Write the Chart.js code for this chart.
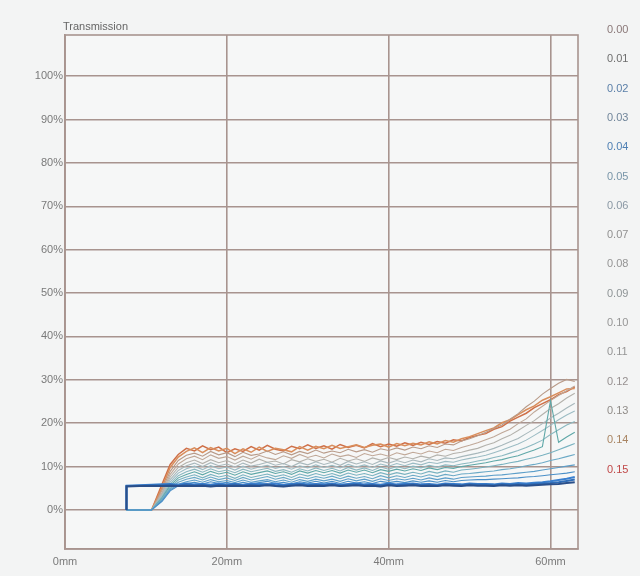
<!DOCTYPE html>
<html>
<head>
<meta charset="utf-8">
<script src="https://cdn.jsdelivr.net/npm/chart.js@4"></script>
<style>
  html, body { margin: 0; padding: 0; background: #f3f4f4; }
  #wrap { width: 640px; height: 576px; }
</style>
</head>
<body>
<div id="wrap"><canvas id="chart"></canvas></div>
<script>
// positions along the sample in mm (shared by every curve)
const positions = [7.6, 7.6, 9.2, 10.7,
  12, 13, 14, 15, 16, 17, 18, 19, 20, 21,
  22, 23, 24, 25, 26, 27, 28, 29, 30, 31,
  32, 33, 34, 35, 36, 37, 38, 39, 40, 41,
  42, 43, 44, 45, 46, 47, 48, 49, 50, 51,
  52, 53, 54, 55, 56, 57, 58, 59, 60, 61,
  62, 63];

const seriesLabels = ['0.00', '0.01', '0.02', '0.03', '0.04', '0.05', '0.06', '0.07',
  '0.08', '0.09', '0.10', '0.11', '0.12', '0.13', '0.14', '0.15'];

// transmission in %
const t000 = [0, 5.4, 5.5, 5.5,
  5.5, 5.6, 5.5, 5.6, 5.5, 5.6, 5.4, 5.6, 5.5, 5.6,
  5.5, 5.6, 5.5, 5.7, 5.5, 5.4, 5.6, 5.7, 5.5, 5.6,
  5.5, 5.7, 5.5, 5.6, 5.7, 5.5, 5.6, 5.4, 5.7, 5.5,
  5.6, 5.7, 5.5, 5.6, 5.5, 5.7, 5.6, 5.5, 5.7, 5.6,
  5.6, 5.5, 5.7, 5.6, 5.7, 5.6, 5.7, 5.8, 5.9, 6.0,
  6.2, 6.4];
const t001 = [0, 5.5, 5.6, 5.7,
  5.7, 5.8, 5.6, 5.9, 5.7, 5.8, 5.6, 5.8, 5.7, 5.9,
  5.6, 5.8, 5.7, 5.9, 5.7, 5.6, 5.8, 5.9, 5.7, 5.8,
  5.7, 5.9, 5.6, 5.8, 5.9, 5.7, 5.8, 5.6, 5.9, 5.7,
  5.8, 5.9, 5.7, 5.8, 5.6, 5.9, 5.8, 5.7, 5.9, 5.8,
  5.8, 5.7, 5.9, 5.8, 5.9, 5.8, 6.0, 6.1, 6.2, 6.4,
  6.7, 7.0];
const t002 = [0, 5.6, 5.7, 5.8,
  5.9, 6.0, 5.8, 6.1, 5.9, 6.0, 5.8, 6.1, 5.9, 6.0,
  5.8, 6.1, 6.0, 5.9, 6.1, 5.8, 6.0, 6.1, 5.9, 6.0,
  5.9, 6.1, 5.8, 6.0, 6.1, 5.9, 6.0, 5.8, 6.1, 5.9,
  6.0, 6.1, 5.9, 6.0, 5.8, 6.1, 6.0, 5.9, 6.1, 6.0,
  6.0, 5.9, 6.1, 6.0, 6.2, 6.1, 6.3, 6.4, 6.6, 6.9,
  7.2, 7.6];
const t003 = [0, 0, 0, 0,
  2.0, 4.4, 5.6, 6.1, 6.4, 6.0, 6.5, 6.1, 6.4, 5.9,
  6.4, 6.0, 6.3, 6.6, 6.1, 6.4, 6.0, 6.5, 6.2, 6.6,
  6.2, 6.6, 6.1, 6.6, 6.2, 6.5, 6.1, 6.6, 6.3, 6.6,
  6.3, 6.7, 6.4, 6.7, 6.4, 6.8, 6.5, 6.8, 6.9, 7.0,
  7.0, 7.1, 7.2, 7.3, 7.4, 7.6, 7.7, 7.9, 8.1, 8.3,
  8.5, 8.8];
const t004 = [0, 0, 0, 0,
  2.2, 4.6, 5.9, 6.5, 6.9, 6.4, 7.0, 6.5, 6.8, 6.3,
  6.9, 6.4, 6.7, 7.0, 6.5, 6.9, 6.4, 7.0, 6.6, 7.1,
  6.7, 7.1, 6.6, 7.2, 6.7, 7.1, 6.6, 7.2, 6.8, 7.2,
  6.9, 7.3, 6.9, 7.4, 7.0, 7.4, 7.1, 7.5, 7.6, 7.7,
  7.8, 8.0, 8.1, 8.3, 8.5, 8.7, 8.9, 9.2, 9.5, 9.8,
  10.1, 10.4];
const t005 = [0, 0, 0, 0,
  2.4, 4.9, 6.4, 7.1, 7.5, 6.9, 7.6, 7.0, 7.4, 6.8,
  7.5, 6.9, 7.3, 7.7, 7.1, 7.5, 6.9, 7.6, 7.2, 7.7,
  7.3, 7.8, 7.2, 7.8, 7.3, 7.7, 7.2, 7.9, 7.4, 7.9,
  7.5, 8.0, 7.6, 8.1, 7.7, 8.2, 7.9, 8.3, 8.4, 8.6,
  8.8, 9.0, 9.3, 9.5, 9.8, 10.2, 10.5, 10.9, 11.4, 11.8,
  12.3, 12.8];
const t006 = [0, 0, 0, 0,
  2.6, 5.2, 6.9, 7.6, 8.1, 7.4, 8.2, 7.6, 8.0, 7.3,
  8.1, 7.5, 7.9, 8.3, 7.7, 8.1, 7.5, 8.3, 7.8, 8.4,
  7.9, 8.4, 7.8, 8.5, 8.0, 8.4, 7.9, 8.6, 8.1, 8.6,
  8.2, 8.7, 8.3, 8.9, 8.5, 9.0, 8.7, 9.2, 9.4, 9.6,
  9.9, 10.2, 10.5, 10.9, 11.2, 11.7, 12.1, 12.6, 13.2, 13.9,
  14.6, 15.3];
const t007 = [0, 0, 0, 0,
  2.8, 5.6, 7.4, 8.2, 8.8, 8.1, 8.9, 8.3, 8.7, 8.0,
  8.8, 8.2, 8.6, 9.0, 8.4, 8.8, 8.2, 9.0, 8.5, 9.1,
  8.6, 9.1, 8.5, 9.2, 8.7, 9.2, 8.6, 9.3, 8.9, 9.4,
  9.0, 9.5, 9.1, 9.7, 9.3, 9.8, 9.6, 10.0, 10.3, 10.6,
  10.9, 11.3, 11.6, 12.1, 12.5, 13.2, 13.8, 14.6, 25.2, 15.6,
  16.8, 17.9];
const t008 = [0, 0, 0, 0,
  3.0, 6.0, 7.9, 8.8, 9.4, 8.7, 9.5, 8.8, 9.2, 8.6,
  9.4, 8.8, 9.2, 9.6, 8.9, 9.3, 8.7, 9.5, 9.0, 9.7,
  9.1, 9.6, 9.0, 9.8, 9.2, 9.7, 9.1, 9.9, 9.4, 10.0,
  9.5, 10.1, 9.7, 10.3, 9.9, 10.4, 10.2, 10.6, 10.9, 11.3,
  11.6, 12.1, 12.5, 13.1, 13.7, 14.4, 15.2, 16.1, 17.4, 18.5,
  19.6, 20.4];
const t009 = [0, 0, 0, 0,
  3.2, 6.5, 8.5, 9.5, 10.1, 9.3, 10.2, 9.5, 9.9, 9.2,
  10.1, 9.4, 9.9, 10.3, 9.6, 10.0, 9.4, 10.2, 9.7, 10.4,
  9.8, 10.3, 9.7, 10.5, 9.9, 10.4, 9.8, 10.6, 10.1, 10.7,
  10.2, 10.8, 10.4, 11.0, 10.7, 11.2, 11.0, 11.5, 11.9, 12.2,
  12.6, 13.2, 13.8, 14.5, 15.2, 16.1, 17.2, 18.3, 19.5, 20.8,
  21.9, 22.8];
const t010 = [0, 0, 0, 0,
  3.5, 7.0, 9.1, 10.2, 10.8, 10.0, 10.9, 10.2, 10.6, 9.9,
  10.8, 10.1, 10.5, 11.0, 10.3, 10.7, 10.0, 10.9, 10.4, 11.1,
  10.5, 11.0, 10.3, 11.2, 10.6, 11.1, 10.5, 11.3, 10.8, 11.4,
  10.9, 11.5, 11.1, 11.8, 11.4, 12.0, 11.8, 12.3, 12.7, 13.1,
  13.6, 14.2, 14.9, 15.7, 16.5, 17.6, 18.7, 19.9, 21.2, 22.3,
  23.5, 24.6];
const t011 = [0, 0, 0, 0,
  3.8, 7.6, 9.8, 10.9, 11.5, 10.7, 11.6, 10.9, 11.4, 10.6,
  11.5, 10.8, 11.7, 11.0, 11.3, 10.6, 11.6, 11.1, 11.8, 11.2,
  11.7, 11.0, 11.9, 11.3, 11.8, 11.2, 12.0, 11.5, 12.1, 11.6,
  12.2, 11.8, 12.4, 12.0, 12.7, 12.4, 13.0, 13.3, 13.8, 14.2,
  14.9, 15.5, 16.4, 17.2, 18.3, 19.5, 20.6, 22.0, 23.4, 24.5,
  25.8, 26.9];
const t012 = [0, 0, 0, 0,
  4.1, 8.2, 10.6, 11.8, 12.4, 11.6, 12.7, 11.9, 12.3, 11.5,
  12.4, 11.7, 12.6, 12.0, 11.6, 12.5, 11.9, 12.8, 12.1, 12.6,
  12.0, 12.9, 12.3, 12.7, 12.1, 13.0, 12.5, 12.9, 12.4, 13.2,
  12.7, 13.3, 12.9, 13.6, 13.2, 14.0, 13.7, 14.4, 14.9, 15.5,
  16.2, 16.9, 17.8, 18.6, 19.9, 21.0, 22.6, 23.9, 25.2, 26.4,
  27.5, 28.6];
const t013 = [0, 0, 0, 0,
  4.6, 8.9, 11.4, 12.6, 13.1, 12.4, 13.5, 12.7, 13.2, 12.3,
  13.3, 12.6, 12.9, 13.6, 12.8, 13.4, 12.7, 13.5, 13.0, 13.8,
  13.1, 13.6, 13.2, 14.0, 13.4, 13.9, 13.3, 14.1, 13.7, 14.3,
  13.8, 14.5, 14.1, 14.8, 14.4, 15.2, 15.0, 15.9, 16.4, 17.1,
  17.9, 18.8, 19.6, 20.9, 22.2, 23.8, 25.1, 26.7, 28.0, 29.2,
  30.1, 29.6];
const t014 = [0, 0, 0, 0,
  5.2, 9.8, 12.2, 13.5, 14.3, 13.2, 14.4, 13.6, 14.2, 13.0,
  14.1, 13.3, 14.5, 13.5, 14.2, 13.9, 13.4, 14.6, 13.8, 14.7,
  14.1, 14.9, 14.2, 14.6, 15.0, 14.4, 14.9, 15.2, 14.5, 15.3,
  14.8, 15.4, 15.0, 15.7, 15.2, 16.0, 15.6, 16.4, 16.9, 17.6,
  18.3, 18.9, 20.1, 20.8, 22.0, 23.1, 24.0, 25.3, 26.1, 27.0,
  27.9, 28.0];
const t015 = [0, 0, 0, 0,
  6.0, 10.5, 12.8, 14.2, 13.6, 14.8, 13.9, 14.5, 13.2, 14.1,
  13.5, 14.6, 13.8, 14.9, 14.0, 13.6, 14.7, 14.1, 15.0, 14.2,
  14.8, 14.0, 15.1, 14.4, 14.9, 14.3, 15.3, 14.6, 15.2, 14.7,
  15.5, 14.9, 15.6, 15.1, 15.8, 15.4, 16.2, 15.9, 16.7, 17.2,
  17.6, 18.6, 19.2, 20.5, 21.4, 22.3, 23.6, 24.5, 25.4, 26.6,
  27.3, 28.4];

const allSeries = [t000, t001, t002, t003, t004, t005, t006, t007,
  t008, t009, t010, t011, t012, t013, t014, t015];

const colors = ['#2a4f8a', '#2f6db8', '#3a80d0', '#4a8fc8', '#5c9ec9', '#6aa9c6', '#79b2c0', '#5fa8a8',
  '#8bb8c0', '#9cbcc4', '#a8b8bc', '#b4b2ac', '#c0a898', '#b89a88', '#d98e5c', '#cf7048'];
const textColors = ['#8a7878', '#6e6e6e', '#5a7fa8', '#70859a', '#4f80b4', '#7895a8', '#8a98a4', '#909090',
  '#949494', '#8e9496', '#969696', '#949494', '#969090', '#908c88', '#a88462', '#c04848'];

const yTicks = [0, 10, 20, 30, 40, 50, 60, 70, 80, 90, 100];
const xTicks = [0, 20, 40, 60];

const GRID = '#a8948f';
const LABEL = '#7a7a7a';
const FONT = '"Liberation Sans", Arial, sans-serif';

const frame = {
  id: 'frame',
  beforeDraw: (chart) => {
    const { ctx, width, height } = chart;
    ctx.save();
    ctx.fillStyle = '#f3f4f4';
    ctx.fillRect(0, 0, width, height);
    const a = chart.chartArea;
    ctx.fillStyle = '#f6f7f7';
    ctx.fillRect(a.left, a.top, a.right - a.left, a.bottom - a.top);
    ctx.restore();
  },
  afterDraw: (chart) => {
    const { ctx } = chart;
    const a = chart.chartArea;
    ctx.save();
    ctx.strokeStyle = GRID;
    ctx.lineWidth = 1.6;
    ctx.strokeRect(a.left, a.top, a.right - a.left, a.bottom - a.top);
    ctx.font = '11px ' + FONT;
    ctx.fillStyle = '#666';
    ctx.textBaseline = 'middle';
    ctx.textAlign = 'left';
    ctx.fillText('Transmission', 63, 27);
    chart.data.datasets.forEach((ds, i) => {
      ctx.fillStyle = textColors[i];
      ctx.fillText(ds.label, 607, 30 + i * 29.3);
    });
    ctx.restore();
  }
};

new Chart(document.getElementById('chart'), {
  type: 'line',
  data: {
    datasets: allSeries.map((vals, i) => ({
      label: seriesLabels[i],
      data: vals.map((v, j) => ({ x: positions[j], y: v })),
      borderColor: colors[i],
      borderWidth: i < 3 ? 2 : (i > 13 ? 1.5 : 1.1),
      pointRadius: 0,
      tension: 0,
      fill: false
    }))
  },
  options: {
    responsive: true,
    maintainAspectRatio: false,
    animation: false,
    layout: { padding: { top: 35, right: 62, bottom: 0, left: 0 } },
    plugins: { legend: { display: false }, tooltip: { enabled: false } },
    scales: {
      x: {
        type: 'linear',
        min: 0,
        max: 63.4,
        afterBuildTicks: (s) => { s.ticks = xTicks.map((v) => ({ value: v })); },
        afterFit: (s) => { s.height = 27; },
        grid: { color: GRID, lineWidth: 1.6, drawTicks: false },
        border: { color: GRID, width: 1.6 },
        ticks: {
          padding: 6,
          color: LABEL,
          font: { size: 11, family: FONT },
          callback: (v) => v + 'mm'
        }
      },
      y: {
        min: -9,
        max: 109.5,
        afterBuildTicks: (s) => { s.ticks = yTicks.map((v) => ({ value: v })); },
        afterFit: (s) => { s.width = 65; },
        grid: { color: GRID, lineWidth: 1.6, drawTicks: false },
        border: { color: GRID, width: 1.6 },
        ticks: {
          padding: 2,
          color: LABEL,
          font: { size: 11, family: FONT },
          callback: (v) => v + '%'
        }
      }
    }
  },
  plugins: [frame]
});
</script>
</body>
</html>
